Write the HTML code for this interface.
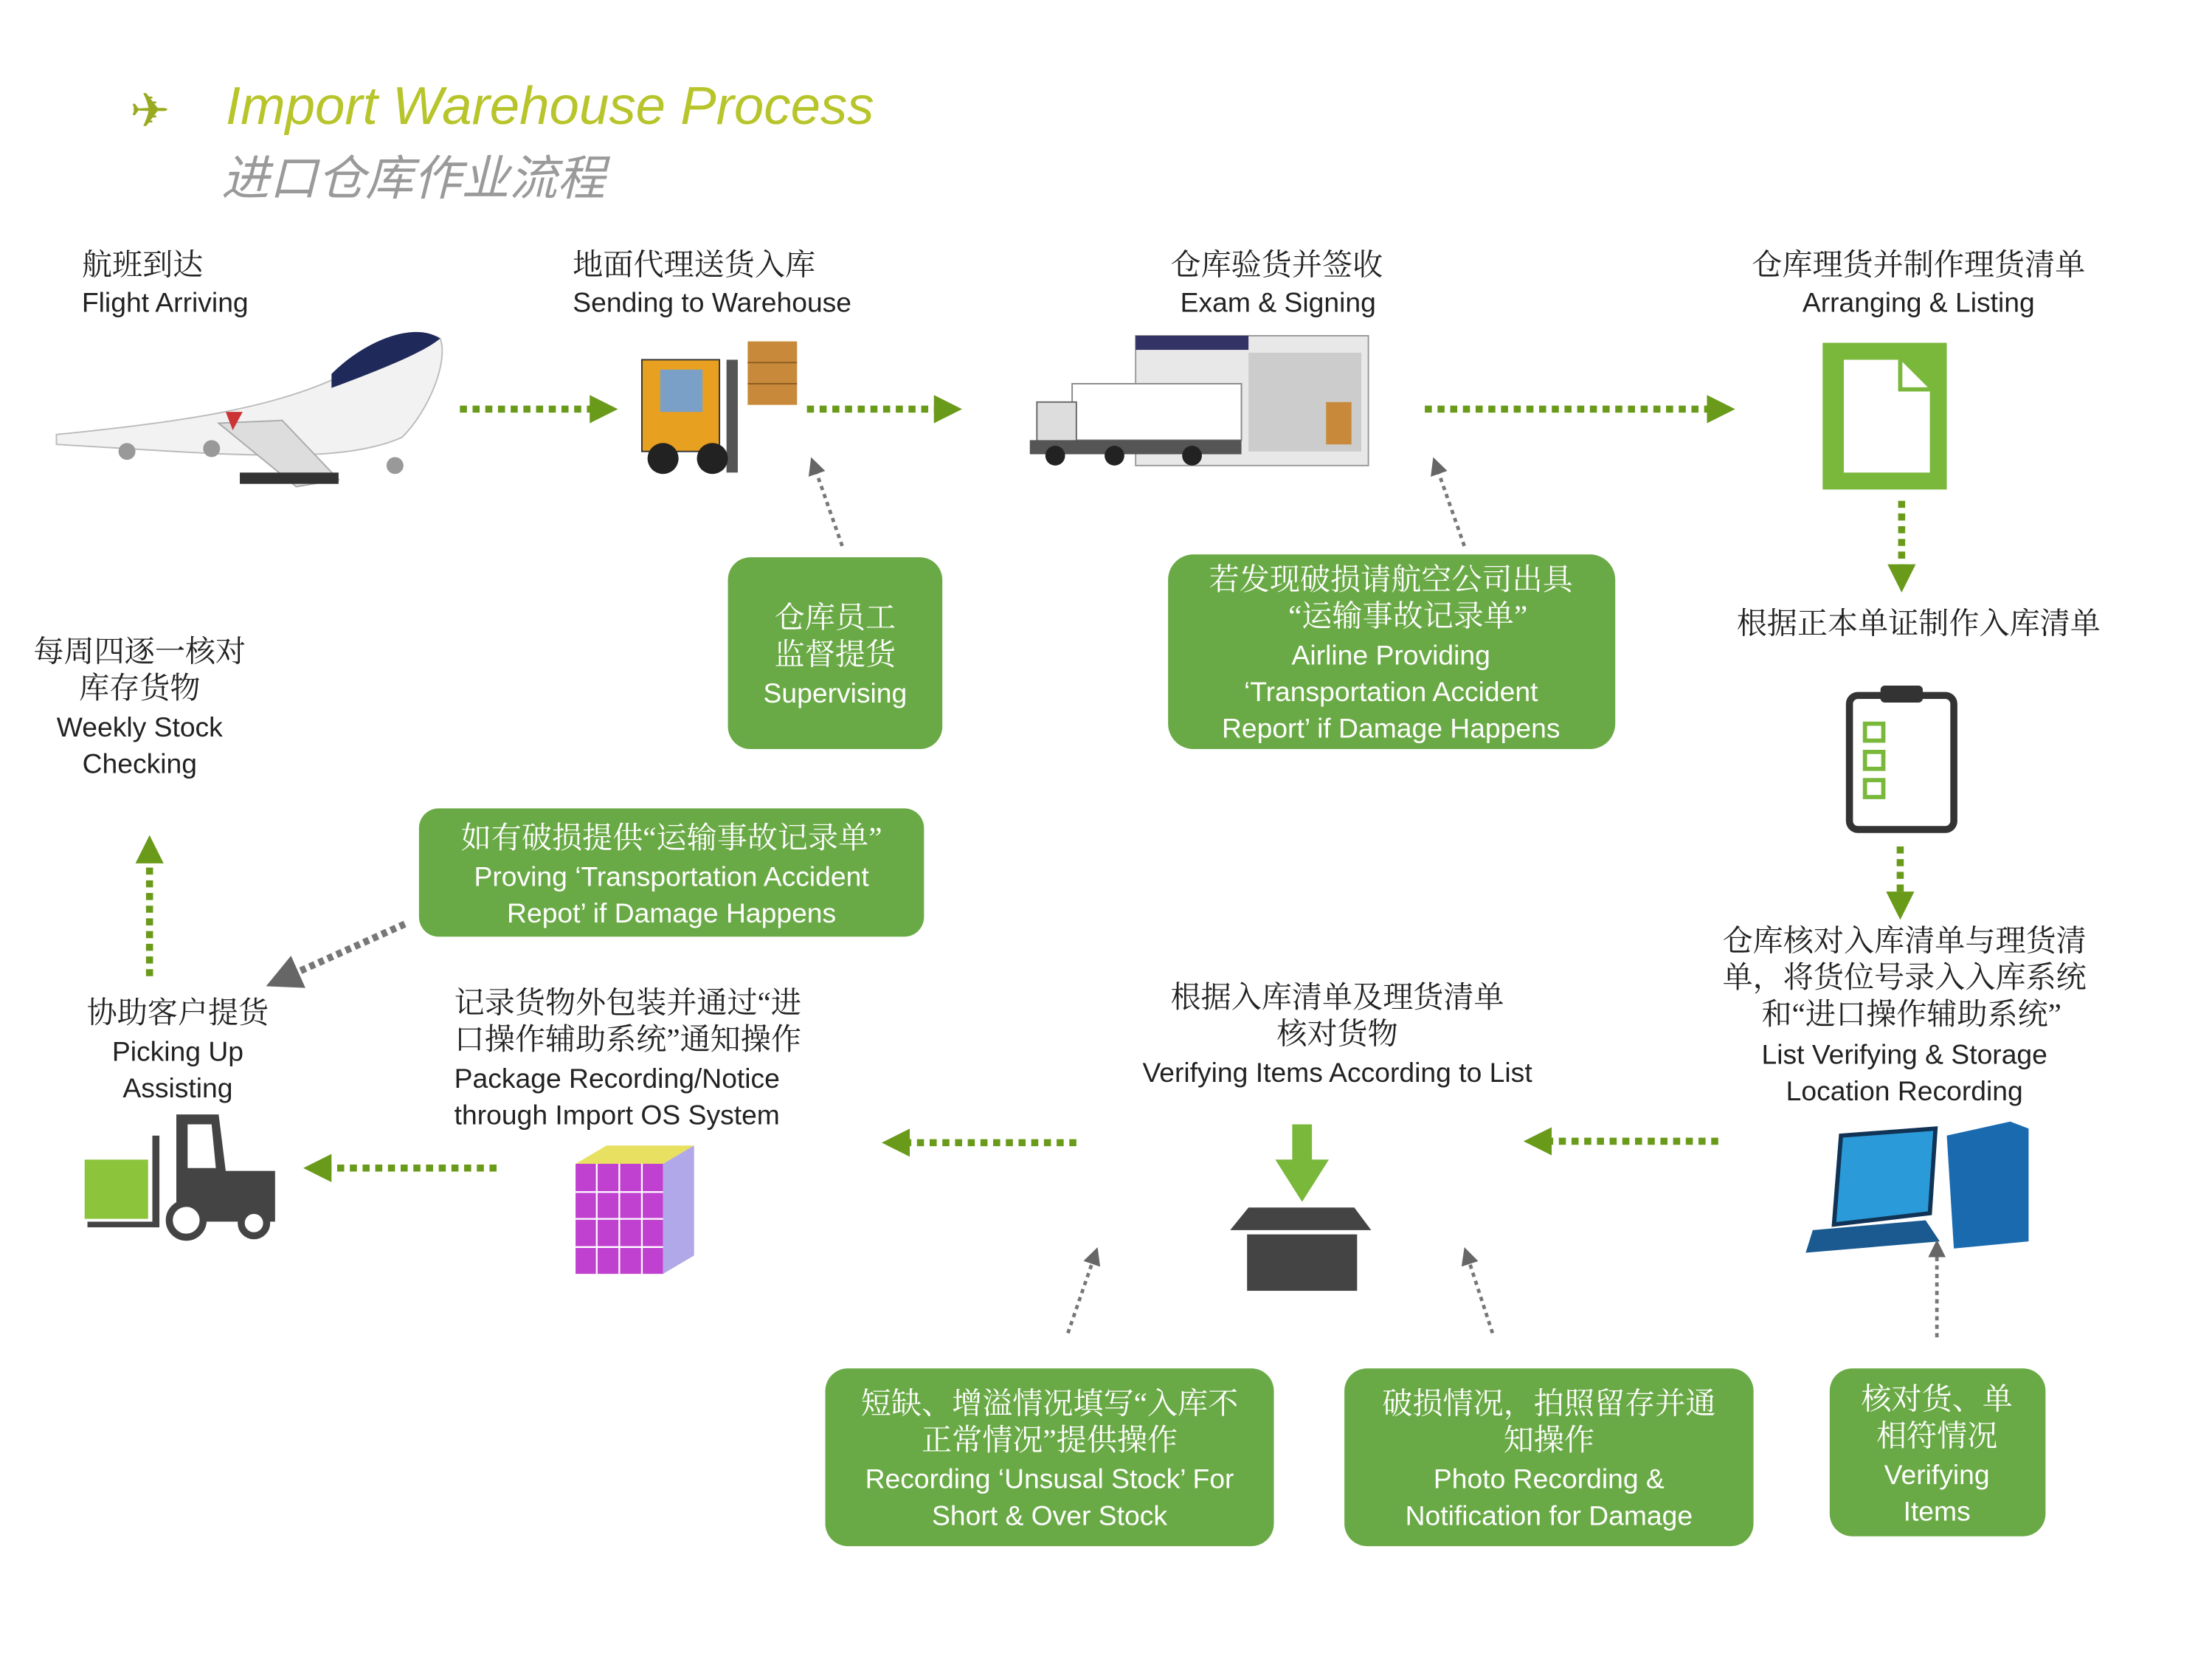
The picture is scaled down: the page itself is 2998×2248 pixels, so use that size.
<!DOCTYPE html>
<html><head><meta charset="utf-8"><style>
html,body{margin:0;padding:0;background:#fff;width:2998px;height:2248px;overflow:hidden}
svg{display:block}
.cn{font-family:"Liberation Serif","Noto Serif CJK SC",serif;font-size:21.5px;fill:#222}
.en{font-family:"Liberation Sans","Noto Sans CJK SC",sans-serif;font-size:19.5px;fill:#222}
.w{fill:#fff}
.box{fill:#6aaa46}
.dg{stroke:#6a9a1a;stroke-width:5;stroke-dasharray:5 4;fill:none}
.dk{stroke:#777;stroke-width:2.5;stroke-dasharray:3 3;fill:none}
</style></head><body>
<svg width="2998" height="2248" viewBox="0 0 1568 1176" preserveAspectRatio="none" xmlns="http://www.w3.org/2000/svg">
<defs>
<marker id="ag" markerWidth="4" markerHeight="4" refX="2" refY="2" orient="auto"><path d="M0,0 L4,2 L0,4z" fill="#6a9a1a"/></marker>
<marker id="ak" markerWidth="5" markerHeight="5" refX="2.5" refY="2.5" orient="auto"><path d="M0,0 L5,2.5 L0,5z" fill="#666"/></marker>
</defs>
<text x="92" y="90" font-size="34" fill="#9aaa20" font-family="DejaVu Sans">✈</text>
<text x="160" y="88" font-family="Liberation Sans,sans-serif" font-style="italic" font-size="38" fill="#b7c42a">Import Warehouse Process</text>
<text x="157" y="138" font-family="Liberation Sans,'Noto Sans CJK SC',sans-serif" font-style="italic" font-size="34" fill="#9a9a9a">进口仓库作业流程</text>

<text class="cn" x="58" y="195">航班到达</text><text class="en" x="58" y="221">Flight Arriving</text>
<text class="cn" x="406" y="195">地面代理送货入库</text><text class="en" x="406" y="221">Sending to Warehouse</text>
<text class="cn" x="905" y="195" text-anchor="middle">仓库验货并签收</text><text class="en" x="906" y="221" text-anchor="middle">Exam &amp; Signing</text>
<text class="cn" x="1360" y="195" text-anchor="middle">仓库理货并制作理货清单</text><text class="en" x="1360" y="221" text-anchor="middle">Arranging &amp; Listing</text>

<g>
<path d="M40,308 C120,300 200,290 250,262 C275,245 300,232 312,240 C318,255 305,290 285,310 C240,330 160,322 40,315z" fill="#f2f2f2" stroke="#bbb"/>
<path d="M235,265 C260,240 295,228 312,240 C300,250 270,262 235,275z" fill="#1f2a5a"/>
<path d="M155,300 L210,345 L240,340 L200,298z" fill="#ddd" stroke="#aaa"/>
<path d="M160,292 L165,305 L172,292z" fill="#c33"/>
<circle cx="90" cy="320" r="6" fill="#999"/><circle cx="150" cy="318" r="6" fill="#999"/><circle cx="280" cy="330" r="6" fill="#999"/>
<rect x="170" y="335" width="70" height="8" fill="#333"/>
</g>
<g>
<rect x="530" y="242" width="35" height="45" fill="#c88a3a"/>
<line x1="530" y1="257" x2="565" y2="257" stroke="#8a5a20"/><line x1="530" y1="272" x2="565" y2="272" stroke="#8a5a20"/>
<rect x="515" y="255" width="8" height="80" fill="#555"/>
<rect x="455" y="255" width="55" height="65" fill="#e8a020" stroke="#333"/>
<rect x="468" y="262" width="30" height="30" fill="#7aa0c8"/>
<circle cx="470" cy="325" r="11" fill="#222"/><circle cx="505" cy="325" r="11" fill="#222"/>
</g>
<g>
<rect x="805" y="238" width="165" height="92" fill="#e8e8e8" stroke="#999"/>
<rect x="805" y="238" width="80" height="10" fill="#336"/>
<rect x="885" y="250" width="80" height="70" fill="#ccc"/>
<rect x="760" y="272" width="120" height="40" fill="#fff" stroke="#888"/>
<rect x="735" y="285" width="28" height="30" fill="#ddd" stroke="#666"/>
<rect x="730" y="312" width="150" height="10" fill="#555"/>
<circle cx="748" cy="323" r="7" fill="#222"/><circle cx="790" cy="323" r="7" fill="#222"/><circle cx="845" cy="323" r="7" fill="#222"/>
<rect x="940" y="285" width="18" height="30" fill="#c88a3a"/>
</g>
<rect x="1292" y="243" width="88" height="104" fill="#7ab83c"/>
<path d="M1307,255 L1347,255 L1368,276 L1368,335 L1307,335z" fill="#fff"/>
<path d="M1347,255 L1347,276 L1368,276" fill="none" stroke="#7ab83c" stroke-width="3"/>

<line class="dg" x1="326" y1="290" x2="428" y2="290" marker-end="url(#ag)"/>
<line class="dg" x1="572" y1="290" x2="672" y2="290" marker-end="url(#ag)"/>
<line class="dg" x1="1010" y1="290" x2="1220" y2="290" marker-end="url(#ag)"/>
<line class="dg" x1="1348" y1="355" x2="1348" y2="410" marker-end="url(#ag)"/>

<text class="cn" x="1360" y="449" text-anchor="middle">根据正本单证制作入库清单</text>
<rect x="1311" y="493" width="74" height="95" rx="6" fill="#fff" stroke="#333" stroke-width="5"/>
<rect x="1333" y="486" width="30" height="12" rx="3" fill="#333"/>
<rect x="1322" y="513" width="13" height="12" fill="none" stroke="#7ab83c" stroke-width="3"/>
<rect x="1322" y="533" width="13" height="12" fill="none" stroke="#7ab83c" stroke-width="3"/>
<rect x="1322" y="553" width="13" height="12" fill="none" stroke="#7ab83c" stroke-width="3"/>
<line class="dg" x1="1347" y1="600" x2="1347" y2="642" marker-end="url(#ag)"/>

<g text-anchor="middle">
<text class="cn" x="1350" y="674">仓库核对入库清单与理货清</text>
<text class="cn" x="1350" y="700">单，将货位号录入入库系统</text>
<text class="cn" x="1355" y="726">和“进口操作辅助系统”</text>
<text class="en" x="1350" y="754">List Verifying &amp; Storage</text>
<text class="en" x="1350" y="780">Location Recording</text>
</g>
<g>
<path d="M1380,805 L1425,795 L1438,800 L1438,880 L1385,885z" fill="#1a6ab0"/>
<path d="M1305,805 L1372,800 L1368,860 L1300,868z" fill="#2a9ad8" stroke="#135" stroke-width="3"/>
<path d="M1285,872 L1365,865 L1375,880 L1280,888z" fill="#1a5a90"/>
</g>

<rect class="box" x="516" y="395" width="152" height="136" rx="16"/>
<g text-anchor="middle"><text class="cn w" x="592" y="445">仓库员工</text><text class="cn w" x="592" y="471">监督提货</text><text class="en w" x="592" y="498">Supervising</text></g>
<rect class="box" x="828" y="393" width="317" height="138" rx="18"/>
<g text-anchor="middle"><text class="cn w" x="986" y="418">若发现破损请航空公司出具</text><text class="cn w" x="998" y="444">“运输事故记录单”</text><text class="en w" x="986" y="471">Airline Providing</text><text class="en w" x="986" y="497">‘Transportation Accident</text><text class="en w" x="986" y="523">Report’ if Damage Happens</text></g>
<rect class="box" x="297" y="573" width="358" height="91" rx="14"/>
<g text-anchor="middle"><text class="cn w" x="476" y="601">如有破损提供“运输事故记录单”</text><text class="en w" x="476" y="628">Proving ‘Transportation Accident</text><text class="en w" x="476" y="654">Repot’ if Damage Happens</text></g>
<rect class="box" x="585" y="970" width="318" height="126" rx="16"/>
<g text-anchor="middle"><text class="cn w" x="744" y="1002">短缺、增溢情况填写“入库不</text><text class="cn w" x="744" y="1028">正常情况”提供操作</text><text class="en w" x="744" y="1055">Recording ‘Unsusal Stock’ For</text><text class="en w" x="744" y="1081">Short &amp; Over Stock</text></g>
<rect class="box" x="953" y="970" width="290" height="126" rx="16"/>
<g text-anchor="middle"><text class="cn w" x="1098" y="1002">破损情况，拍照留存并通</text><text class="cn w" x="1098" y="1028">知操作</text><text class="en w" x="1098" y="1055">Photo Recording &amp;</text><text class="en w" x="1098" y="1081">Notification for Damage</text></g>
<rect class="box" x="1297" y="970" width="153" height="119" rx="16"/>
<g text-anchor="middle"><text class="cn w" x="1373" y="999">核对货、单</text><text class="cn w" x="1373" y="1025">相符情况</text><text class="en w" x="1373" y="1052">Verifying</text><text class="en w" x="1373" y="1078">Items</text></g>

<line class="dk" x1="597" y1="387" x2="577" y2="330" marker-end="url(#ak)"/>
<line class="dk" x1="1038" y1="387" x2="1018" y2="330" marker-end="url(#ak)"/>
<line class="dk" x1="757" y1="945" x2="776" y2="890" marker-end="url(#ak)"/>
<line class="dk" x1="1058" y1="945" x2="1040" y2="890" marker-end="url(#ak)"/>
<line class="dk" x1="1373" y1="948" x2="1373" y2="885" marker-end="url(#ak)"/>
<line x1="287" y1="655" x2="200" y2="694" stroke="#777" stroke-width="5" stroke-dasharray="4 3" marker-end="url(#ak)"/>

<line class="dg" x1="1218" y1="809" x2="1090" y2="809" marker-end="url(#ag)"/>
<line class="dg" x1="763" y1="810" x2="635" y2="810" marker-end="url(#ag)"/>
<line class="dg" x1="352" y1="828" x2="225" y2="828" marker-end="url(#ag)"/>
<line class="dg" x1="106" y1="692" x2="106" y2="602" marker-end="url(#ag)"/>

<g text-anchor="middle">
<text class="cn" x="99" y="469">每周四逐一核对</text><text class="cn" x="99" y="495">库存货物</text>
<text class="en" x="99" y="522">Weekly Stock</text><text class="en" x="99" y="548">Checking</text>
<text class="cn" x="126" y="725">协助客户提货</text><text class="en" x="126" y="752">Picking Up</text><text class="en" x="126" y="778">Assisting</text>
</g>
<g>
<rect x="60" y="822" width="45" height="42" fill="#8cc43c"/>
<rect x="108" y="805" width="5" height="65" fill="#444"/>
<path d="M125,790 L155,790 L160,830 L195,830 L195,866 L125,866z" fill="#444"/>
<path d="M133,797 L150,797 L153,828 L133,828z" fill="#fff"/>
<rect x="62" y="866" width="50" height="4" fill="#444"/>
<circle cx="132" cy="865" r="12" fill="#fff" stroke="#444" stroke-width="5"/>
<circle cx="180" cy="867" r="9" fill="#fff" stroke="#444" stroke-width="5"/>
</g>

<g>
<text class="cn" x="322" y="718">记录货物外包装并通过“进</text>
<text class="cn" x="322" y="744">口操作辅助系统”通知操作</text>
<text class="en" x="322" y="771">Package Recording/Notice</text>
<text class="en" x="322" y="797">through Import OS System</text>
</g>
<g>
<path d="M408,825 L470,825 L470,903 L408,903z" fill="#c040d0"/>
<path d="M408,825 L430,812 L492,812 L470,825z" fill="#e8e060"/>
<path d="M470,825 L492,812 L492,890 L470,903z" fill="#b0a8e8"/>
<g stroke="#fff" stroke-width="1.2">
<line x1="408" y1="845" x2="470" y2="845"/><line x1="408" y1="864" x2="470" y2="864"/><line x1="408" y1="884" x2="470" y2="884"/>
<line x1="423" y1="825" x2="423" y2="903"/><line x1="439" y1="825" x2="439" y2="903"/><line x1="455" y1="825" x2="455" y2="903"/>
</g>
</g>

<g text-anchor="middle">
<text class="cn" x="948" y="714">根据入库清单及理货清单</text>
<text class="cn" x="948" y="740">核对货物</text>
<text class="en" x="948" y="767">Verifying Items According to List</text>
</g>
<g>
<path d="M916,797 L930,797 L930,822 L942,822 L923,852 L904,822 L916,822z" fill="#7ab83c"/>
<path d="M885,856 L960,856 L972,872 L872,872z" fill="#444"/>
<rect x="884" y="875" width="78" height="40" fill="#444"/>
</g>
</svg>
</body></html>
